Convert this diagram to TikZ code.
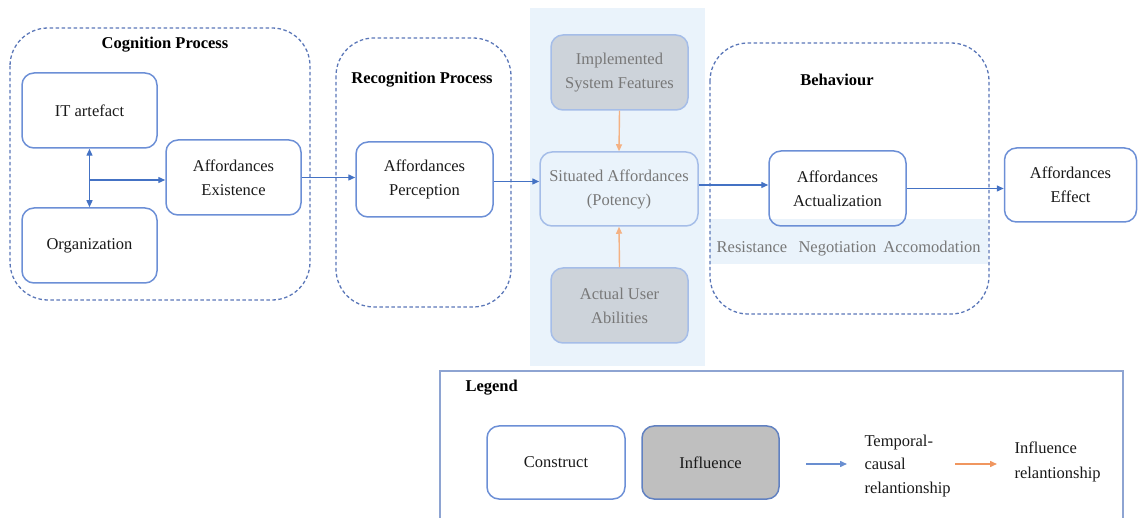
\documentclass[tikz,border=0pt]{standalone}
\usepackage{fontspec}
\setmainfont{Liberation Serif}
\usetikzlibrary{arrows.meta}

\definecolor{boxline}{RGB}{108,143,214}
\definecolor{flowline}{RGB}{68,114,196}
\definecolor{groupline}{RGB}{91,119,184}
\definecolor{paleline}{RGB}{165,189,232}
\definecolor{palefill}{RGB}{205,211,218}
\definecolor{zone}{RGB}{234,243,251}
\definecolor{paletext}{RGB}{120,120,120}
\definecolor{influx}{RGB}{244,177,131}
\definecolor{influxdark}{RGB}{240,150,95}
\definecolor{greyfill}{RGB}{191,191,191}
\definecolor{legendline}{RGB}{142,164,210}

\tikzset{
  x=1pt, y=-1pt,
  txt/.style={font=\fontsize{16.5}{24}\selectfont, text=black!90, align=center},
  construct/.style={txt, draw=boxline, line width=1.5pt, rounded corners=12pt,
    minimum width=135pt, minimum height=75pt, inner sep=2pt},
  paleinfl/.style={construct, draw=paleline, fill=palefill, text=paletext},
  palebox/.style={construct, draw=paleline, text=paletext},
  group/.style={draw=groupline, line width=1.3pt, dash pattern=on 3.5pt off 2.5pt,
    rounded corners=38pt},
  grouptitle/.style={font=\fontsize{16.5}{19}\selectfont\bfseries, text=black},
  flow/.style={draw=flowline, line width=1.4pt, -{Triangle[length=7pt,width=6pt]}},
  flowboth/.style={draw=flowline, line width=1.4pt,
    {Triangle[length=7pt,width=6pt]}-{Triangle[length=7pt,width=6pt]}},
  infl/.style={draw=influx, line width=1.4pt, -{Triangle[length=7pt,width=6pt]}},
  modetxt/.style={font=\fontsize{16.5}{19}\selectfont, text=paletext, anchor=base},
}

\begin{document}
\begin{tikzpicture}
\useasboundingbox (0,0) rectangle (1138,518);

% shaded zones
\fill[zone] (530,8) rectangle (705,366);
\fill[zone] (710,219) rectangle (988,264);

% process groups
\draw[group] (10,28) rectangle (310,300);
\draw[group] (336,38) rectangle (511,307);
\draw[group] (710,43) rectangle (989,314);
\node[grouptitle] (tcog) at (165,45) {Cognition Process};
\node[grouptitle] (trec) at (422,80) {Recognition Process};
\node[grouptitle] (tbeh) at (837,80) {Behaviour};

% constructs
\node[construct] (itart) at (89.5,110.5) {IT artefact};
\node[construct] (org) at (89.5,245.5) {Organization};
\node[construct] (exist) at (233.5,177.5) {Affordances\\Existence};
\node[construct, minimum width=137pt] (perc) at (424.5,179.5) {Affordances\\Perception};
\node[paleinfl, minimum width=137pt] (impl) at (619.5,72.5) {Implemented\\System Features};
\node[palebox, minimum width=158pt, minimum height=74pt] (sit) at (619,189) {Situated Affordances\\(Potency)};
\node[paleinfl, minimum width=137pt] (abil) at (619.5,305.5) {Actual User\\Abilities};
\node[construct, minimum width=137pt] (act) at (837.5,188.5) {Affordances\\Actualization};
\node[construct, minimum width=132pt, minimum height=74pt] (eff) at (1070.5,185) {Affordances\\Effect};

% modes of actualization
\node[modetxt] (mres) at (752,253) {Resistance};
\node[modetxt] (mneg) at (837.5,253) {Negotiation};
\node[modetxt] (macc) at (932,253) {Accomodation};

% relationships
\coordinate (j) at (89.5,180);
\draw[flowboth] (itart.south) -- (org.north);
\draw[flow] (j) -- (j -| exist.west);
\draw[flow] (exist.east) -- (exist.east -| perc.west);
\draw[flow] ([yshift=-2pt]perc.east) -- ([yshift=-2pt]perc.east -| sit.west);
\draw[flow] ([yshift=4pt]sit.east) -- ([yshift=4pt]sit.east -| act.west);
\draw[flow] (act.east) -- (act.east -| eff.west);
\draw[infl] (impl.south) -- (sit.north);
\draw[infl] (abil.north) -- (sit.south);

% legend
\draw[legendline, line width=1.6pt] (440,520) -- (440,371) -- (1123,371) -- (1123,520);
\node[grouptitle, anchor=west] (tleg) at (462,388) {Legend};
\node[construct, minimum width=138pt, minimum height=73pt] (lcon) at (556,462.5) {Construct};
\node[construct, minimum width=137pt, minimum height=73pt, fill=greyfill, draw=boxline!90!black] (linf) at (710.5,462.5) {Influence};
\coordinate (b0) at (806,464);
\coordinate (b1) at (847,464);
\draw[flow, draw=flowline!80] (b0) -- (b1);
\node[txt, align=left, anchor=west, font=\fontsize{16.5}{23.5}\selectfont] (ltc) at (861,466) {Temporal-\\causal\\relantionship};
\coordinate (o0) at (955,464);
\coordinate (o1) at (997,464);
\draw[infl, draw=influxdark] (o0) -- (o1);
\node[txt, align=left, anchor=west, font=\fontsize{16.5}{25}\selectfont] (lir) at (1011,462) {Influence\\relantionship};
\end{tikzpicture}
\end{document}
